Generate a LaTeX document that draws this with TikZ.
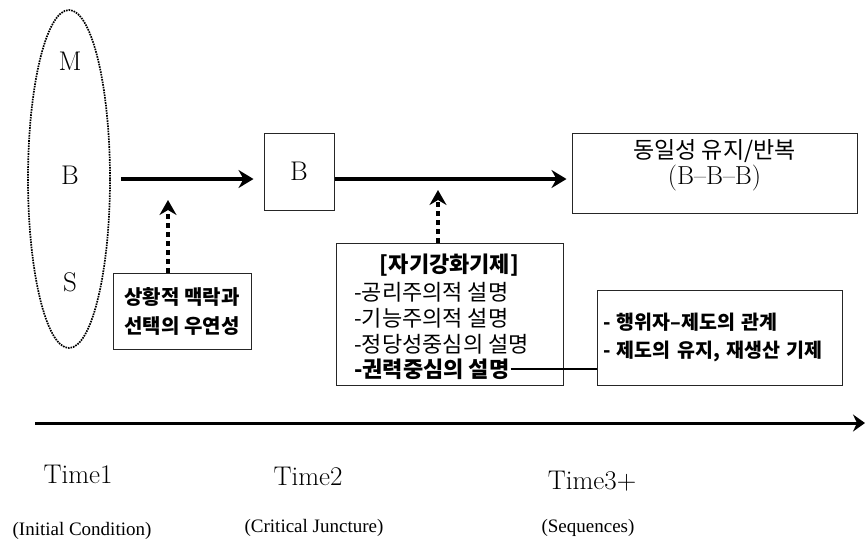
\documentclass[tikz,border=0pt]{standalone}
\usepackage{fontspec}
\newfontfamily\krfont{Noto Sans CJK KR}
\newfontfamily\timesfont{Liberation Serif}
\usetikzlibrary{arrows.meta,shapes.geometric}

\begin{document}
\begin{tikzpicture}[x=1pt,y=-1pt,
        box/.style={draw=black!85,line width=1pt,inner sep=0pt},
        bigarrow/.style={line width=4pt,-{Stealth[length=15pt,width=18pt,inset=5pt]}},
        dotarrow/.style={line width=4.5pt,dash pattern=on 5pt off 4pt,-{Stealth[length=15pt,width=17pt,inset=5pt]}},
        latin/.style={font=\fontsize{27}{32}\selectfont},
        kr/.style={font=\krfont\fontsize{22}{26}\selectfont},
        krbold/.style={font=\krfont\bfseries\fontsize{22}{26}\selectfont},
        sub/.style={font=\timesfont\fontsize{19}{22}\selectfont}]
        \useasboundingbox (0,0) rectangle (865,542);

        % condizioni iniziali
        \node[draw,ellipse,inner sep=0pt,line width=1.7pt,dash pattern=on 1.6pt off 1pt,
            minimum width=82,minimum height=338] (ctx) at (69,179) {};
        \node[latin] (m) at (70,61) {M};
        \node[latin] (b) at (70,175) {B};
        \node[latin] (s) at (70,282) {S};

        \node[box,minimum width=70,minimum height=77,latin] (boxB) at (299,171.5) {B};
        \node[box,minimum width=285,minimum height=80] (result) at (714.5,173) {};
        \node[align=center,inner sep=0pt] (resulttext) at (714.5,165.5)
            {{\krfont\fontsize{23}{31}\selectfont 동일성 유지/반복}\\[1pt]{\fontsize{26}{30}\selectfont (B--B--B)}};

        \draw[bigarrow] ([xshift=10pt]ctx.east) -- ([xshift=-10pt]ctx.east -| boxB.west);
        \draw[bigarrow] (boxB.east |- ctx.east) -- ([xshift=-5pt]ctx.east -| result.west);

        % contingenza
        \node[box,minimum width=138,minimum height=76,align=center,
            font=\krfont\bfseries\fontsize{20}{29}\selectfont] (ctxbox) at (182,311)
            {상황적 맥락과\\선택의 우연성};
        \coordinate (tip1) at (168,200);
        \draw[dotarrow] (ctxbox.north -| tip1) -- (tip1);

        % meccanismi
        \node[box,minimum width=227,minimum height=142] (mech) at (449.5,314) {};
        \node[krbold,inner sep=0pt] (mtitle) at (449.5,265) {[자기강화기제]};
        \node[kr,inner sep=0pt,anchor=west] (m1) at (354,292) {-공리주의적 설명};
        \node[kr,inner sep=0pt,anchor=west] (m2) at (354,318) {-기능주의적 설명};
        \node[kr,inner sep=0pt,anchor=west] (m3) at (354,344) {-정당성중심의 설명};
        \node[krbold,inner sep=0pt,anchor=west] (m4) at (354,369) {-권력중심의 설명};
        \coordinate (tip2) at (438,190);
        \draw[dotarrow] (mech.north -| tip2) -- (tip2);

        \node[box,minimum width=245,minimum height=95,text width=233,align=left,
            font=\krfont\bfseries\fontsize{19.5}{28}\selectfont] (rel) at (719.5,337.5)
            {- 행위자–제도의 관계\\- 제도의 유지, 재생산 기제};
        \draw[line width=2pt] ([xshift=1pt]m4.east) -- (m4.east -| rel.west);

        % asse del tempo
        \coordinate (t0) at (35,423);
        \coordinate (t1) at (865,423);
        \draw[line width=3pt,-{Stealth[length=12pt,width=17pt,inset=4pt]}] (t0) -- (t1);

        \node[latin] (time1) at (78,474) {Time1};
        \node[latin] (time2) at (308,476) {Time2};
        \node[latin] (time3) at (592,481) {Time3+};
        \node[sub] (cond1) at (82,531) {(Initial Condition)};
        \node[sub] (cond2) at (314,528) {(Critical Juncture)};
        \node[sub] (cond3) at (588,528) {(Sequences)};
    \end{tikzpicture}
\end{document}
